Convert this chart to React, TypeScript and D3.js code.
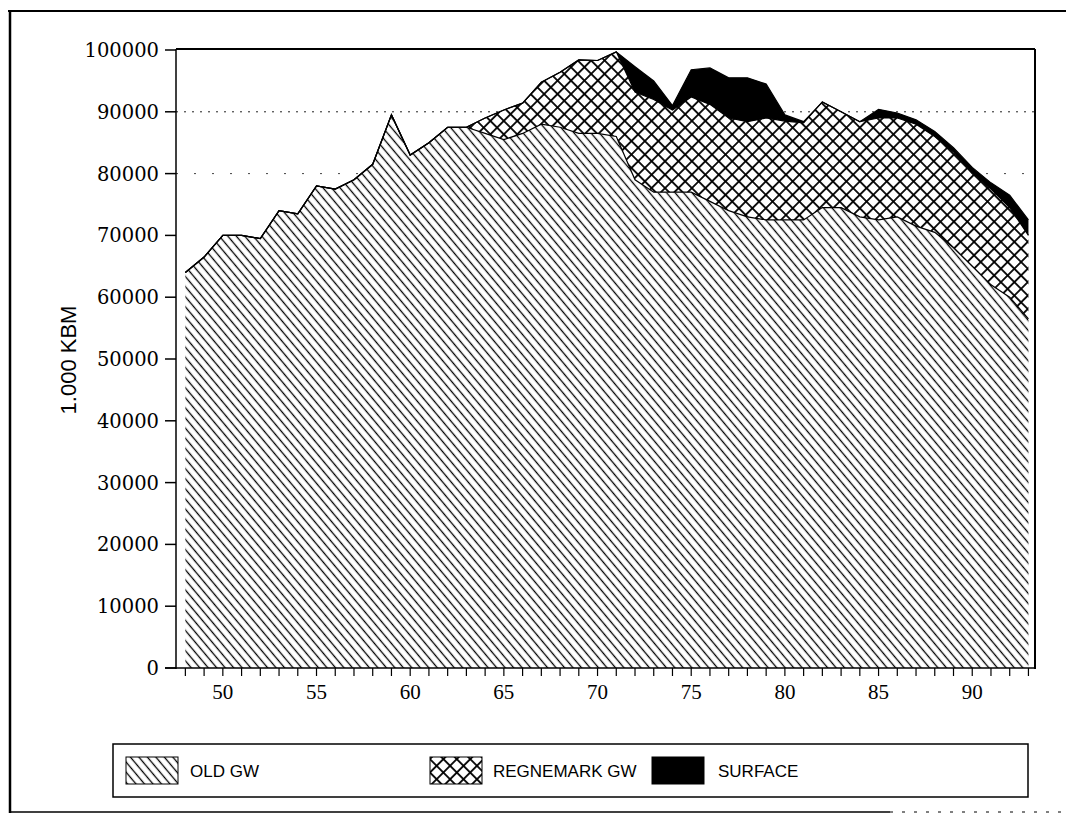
import React from 'react';
import * as d3 from 'd3';

// years 1948 - 1993
const years = [
  48, 49, 50, 51, 52, 53, 54, 55, 56, 57, 58, 59, 60, 61, 62, 63, 64, 65, 66, 67, 68, 69, 70,
  71, 72, 73, 74, 75, 76, 77, 78, 79, 80, 81, 82, 83, 84, 85, 86, 87, 88, 89, 90, 91, 92, 93,
];

// 1.000 KBM
const oldGw = [
  64000, 66500, 70000, 70000, 69500, 74000, 73500, 78000, 77500, 79000, 81500, 89500, 83000,
  85000, 87500, 87500, 86500, 85500, 86500, 88000, 87500, 86500, 86500,
  86000, 79000, 77000, 77000, 77000, 75500, 74000, 73000, 72500, 72500, 72500, 74500, 74500,
  73000, 72500, 73000, 71500, 70500, 68000, 65000, 62000, 60000, 56500,
];
const regnemarkGw = [
  0, 0, 0, 0, 0, 0, 0, 0, 0, 0, 0, 0, 0,
  0, 0, 0, 2500, 4800, 4900, 6800, 8900, 11900, 11800,
  13700, 14200, 15000, 13300, 15400, 15700, 15000, 15400, 16500, 16000, 15700, 17100, 15500,
  15400, 16500, 16000, 16500, 15500, 15500, 15000, 15500, 14500, 13500,
];
const surface = [
  0, 0, 0, 0, 0, 0, 0, 0, 0, 0, 0, 0, 0,
  0, 0, 0, 0, 0, 0, 0, 0, 0, 0,
  0, 4100, 3000, 700, 4400, 5900, 6500, 7100, 5500, 1000, 200, 0, 0,
  0, 1400, 800, 700, 800, 700, 1000, 1000, 2000, 2500,
];

const yTicks = [0, 10000, 20000, 30000, 40000, 50000, 60000, 70000, 80000, 90000, 100000];
const xLabels = [50, 55, 60, 65, 70, 75, 80, 85, 90];
const seriesKeys = ['old', 'reg', 'surf'];
const seriesNames = ['OLD GW', 'REGNEMARK GW', 'SURFACE'];

const App = () => {
  const x = d3.scaleLinear().domain([47.5, 93.35]).range([176, 1035]);
  const y = d3.scaleLinear().domain([0, 100000]).range([668, 50]);

  const rows = years.map((yr, i) => ({
    year: yr,
    old: oldGw[i],
    reg: regnemarkGw[i],
    surf: surface[i],
  }));
  const stacked = d3.stack().keys(seriesKeys)(rows as any);

  const area = d3
    .area<any>()
    .x((d) => x(d.data.year))
    .y0((d) => y(d[0]))
    .y1((d) => y(d[1]));
  const topLine = d3
    .line<any>()
    .x((d) => x(d.data.year))
    .y((d) => y(d[1]));

  const fills = ['url(#hatchOld)', 'url(#hatchCross)', '#000'];

  // legend layout
  const legendX = [126, 430, 652];
  const legendTextX = [190, 493, 718];

  return (
    <svg
      width={1075}
      height={824}
      style={{ position: 'absolute', left: 0, top: 0, background: '#fff' }}
    >
      <defs>
        <pattern
          id="hatchOld"
          patternUnits="userSpaceOnUse"
          width={6.5}
          height={6.5}
          patternTransform="rotate(-40)"
        >
          <rect width={6.5} height={6.5} fill="#fff" />
          <line x1={3.25} y1={0} x2={3.25} y2={6.5} stroke="#000" strokeWidth={1.3} />
        </pattern>
        <pattern
          id="hatchCross"
          patternUnits="userSpaceOnUse"
          width={9.5}
          height={9.5}
          patternTransform="rotate(45)"
        >
          <rect width={9.5} height={9.5} fill="#fff" />
          <line x1={0} y1={4.75} x2={9.5} y2={4.75} stroke="#000" strokeWidth={1.8} />
          <line x1={4.75} y1={0} x2={4.75} y2={9.5} stroke="#000" strokeWidth={1.8} />
        </pattern>
      </defs>

      {/* outer frame */}
      <line x1={8} y1={11} x2={1066} y2={11} stroke="#000" strokeWidth={2} />
      <line x1={10} y1={10} x2={10} y2={813} stroke="#000" strokeWidth={2.5} />
      <line x1={10} y1={812} x2={890} y2={812} stroke="#000" strokeWidth={1.5} />
      <line
        x1={890}
        y1={812}
        x2={1066}
        y2={812}
        stroke="#000"
        strokeWidth={1}
        strokeDasharray="3,9"
      />

      {/* gridlines */}
      <line
        x1={176}
        x2={1035}
        y1={y(90000)}
        y2={y(90000)}
        stroke="#222"
        strokeWidth={1}
        strokeDasharray="2,6"
      />
      <line
        x1={176}
        x2={1035}
        y1={y(80000)}
        y2={y(80000)}
        stroke="#444"
        strokeWidth={1}
        strokeDasharray="2,16"
      />

      {/* stacked areas */}
      {stacked.map((s, i) => (
        <path key={s.key} d={area(s as any) || ''} fill={fills[i]} stroke="none" />
      ))}
      {stacked.map((s) => (
        <path
          key={'l' + s.key}
          d={topLine(s as any) || ''}
          fill="none"
          stroke="#000"
          strokeWidth={1.2}
        />
      ))}

      {/* plot frame */}
      <line x1={176} y1={49} x2={1035} y2={49} stroke="#000" strokeWidth={2} />
      <line x1={1035} y1={49} x2={1035} y2={669} stroke="#000" strokeWidth={2} />
      <line x1={176} y1={49} x2={176} y2={669} stroke="#000" strokeWidth={1.5} />
      <line x1={165} y1={668} x2={1035} y2={668} stroke="#000" strokeWidth={1.5} />

      {/* y axis */}
      {yTicks.map((t) => (
        <g key={'y' + t}>
          <line x1={165} x2={176} y1={y(t)} y2={y(t)} stroke="#000" strokeWidth={1.5} />
          <text
            x={159}
            y={y(t)}
            dy="0.36em"
            textAnchor="end"
            fontFamily="DejaVu Serif"
            fontSize={19.5}
            fill="#000"
          >
            {t}
          </text>
        </g>
      ))}
      <text
        transform="translate(76,360) rotate(-90)"
        textAnchor="middle"
        fontFamily="Liberation Sans, Arial, sans-serif"
        fontSize={22}
        fill="#000"
      >
        1.000 KBM
      </text>

      {/* x axis */}
      {years.map((yr) => (
        <line
          key={'xt' + yr}
          x1={x(yr)}
          x2={x(yr)}
          y1={668}
          y2={676}
          stroke="#000"
          strokeWidth={1.2}
        />
      ))}
      {xLabels.map((l) => (
        <text
          key={'xl' + l}
          x={x(l)}
          y={699}
          textAnchor="middle"
          fontFamily="Liberation Serif, serif"
          fontSize={21}
          fill="#000"
        >
          {l}
        </text>
      ))}

      {/* legend */}
      <rect x={113} y={744} width={915} height={53} fill="none" stroke="#000" strokeWidth={1.5} />
      {seriesNames.map((name, i) => (
        <g key={name}>
          <rect
            x={legendX[i]}
            y={757}
            width={52}
            height={27}
            fill={fills[i]}
            stroke="#000"
            strokeWidth={1}
          />
          <text
            x={legendTextX[i]}
            y={777}
            fontFamily="Liberation Sans, Arial, sans-serif"
            fontSize={17}
            fill="#000"
          >
            {name}
          </text>
        </g>
      ))}
    </svg>
  );
};

export default App;
